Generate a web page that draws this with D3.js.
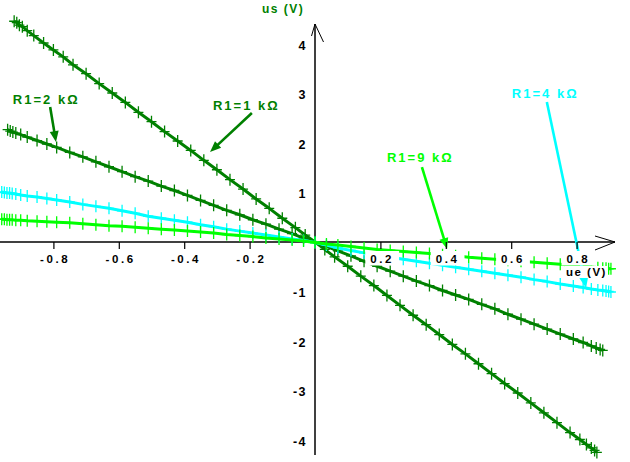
<!DOCTYPE html>
<html><head><meta charset="utf-8">
<script src="https://cdn.jsdelivr.net/npm/d3@7"></script>
<style>html,body{margin:0;padding:0;background:#fff;} svg{display:block;}</style>
</head><body>
<svg id="chart" width="630" height="462"></svg>
<script>
// ---------------- data ----------------
const seriesNames = ["R1=1 kΩ", "R1=2 kΩ", "R1=4 kΩ", "R1=9 kΩ"];

const ue_R1_1k = [-0.920,-0.912,-0.904,-0.895,-0.880,-0.860,-0.830,-0.800,-0.770,-0.740,-0.700,-0.660,-0.620,-0.580,-0.540,-0.500,-0.460,-0.420,-0.380,-0.340,-0.300,-0.260,-0.220,-0.180,-0.140,-0.100,-0.060,-0.030,0.000,0.030,0.060,0.100,0.140,0.180,0.220,0.260,0.300,0.340,0.380,0.420,0.460,0.500,0.540,0.580,0.620,0.660,0.700,0.740,0.780,0.810,0.830,0.845,0.855,0.862];
const us_R1_1k = [4.46,4.43,4.38,4.35,4.27,4.17,4.02,3.88,3.74,3.58,3.40,3.20,3.01,2.82,2.62,2.43,2.23,2.04,1.85,1.65,1.46,1.26,1.07,0.87,0.68,0.48,0.29,0.14,0.00,-0.15,-0.30,-0.49,-0.69,-0.88,-1.08,-1.28,-1.48,-1.67,-1.87,-2.07,-2.26,-2.46,-2.66,-2.86,-3.05,-3.25,-3.45,-3.65,-3.85,-3.99,-4.09,-4.16,-4.21,-4.25];

const ue_R1_2k = [-0.940,-0.932,-0.924,-0.915,-0.900,-0.880,-0.850,-0.820,-0.790,-0.750,-0.710,-0.670,-0.630,-0.590,-0.550,-0.510,-0.470,-0.430,-0.390,-0.350,-0.310,-0.270,-0.230,-0.190,-0.150,-0.110,-0.070,-0.035,0.000,0.035,0.070,0.110,0.150,0.190,0.230,0.270,0.310,0.350,0.390,0.430,0.470,0.510,0.550,0.590,0.630,0.670,0.710,0.750,0.790,0.820,0.845,0.860,0.872,0.880];
const us_R1_2k = [2.27,2.24,2.22,2.20,2.17,2.12,2.05,1.98,1.91,1.81,1.72,1.62,1.52,1.42,1.32,1.23,1.13,1.04,0.94,0.84,0.74,0.64,0.55,0.45,0.36,0.26,0.17,0.08,0.00,-0.09,-0.18,-0.28,-0.39,-0.49,-0.59,-0.69,-0.79,-0.88,-0.98,-1.07,-1.16,-1.26,-1.35,-1.46,-1.56,-1.66,-1.76,-1.86,-1.96,-2.03,-2.10,-2.14,-2.17,-2.19];

const ue_R1_4k = [-0.958,-0.950,-0.942,-0.934,-0.926,-0.915,-0.900,-0.880,-0.850,-0.820,-0.790,-0.750,-0.710,-0.670,-0.630,-0.590,-0.550,-0.510,-0.470,-0.430,-0.390,-0.350,-0.310,-0.270,-0.230,-0.190,-0.150,-0.110,-0.070,-0.035,0.000,0.035,0.070,0.110,0.150,0.190,0.230,0.270,0.310,0.350,0.390,0.430,0.470,0.510,0.550,0.590,0.630,0.670,0.710,0.750,0.790,0.820,0.845,0.865,0.880,0.890,0.898,0.905];
const us_R1_4k = [1.01,1.00,0.99,0.99,0.98,0.97,0.95,0.93,0.91,0.88,0.85,0.81,0.76,0.72,0.68,0.63,0.58,0.52,0.48,0.44,0.40,0.35,0.31,0.26,0.22,0.18,0.14,0.10,0.06,0.03,-0.01,-0.06,-0.12,-0.17,-0.22,-0.27,-0.31,-0.35,-0.39,-0.43,-0.47,-0.51,-0.55,-0.59,-0.63,-0.67,-0.71,-0.76,-0.80,-0.85,-0.89,-0.92,-0.95,-0.97,-0.98,-0.99,-1.00,-1.01];

const ue_R1_9k = [-0.958,-0.950,-0.942,-0.934,-0.926,-0.915,-0.900,-0.880,-0.850,-0.820,-0.790,-0.750,-0.710,-0.670,-0.630,-0.590,-0.550,-0.510,-0.470,-0.430,-0.390,-0.350,-0.310,-0.270,-0.230,-0.190,-0.150,-0.110,-0.070,-0.035,0.000,0.035,0.070,0.110,0.150,0.190,0.230,0.270,0.310,0.350,0.390,0.430,0.470,0.510,0.550,0.590,0.630,0.670,0.710,0.750,0.790,0.820,0.845,0.865,0.880,0.890,0.898,0.905];
const us_R1_9k = [0.46,0.46,0.45,0.45,0.45,0.44,0.44,0.43,0.42,0.41,0.40,0.39,0.37,0.35,0.33,0.32,0.30,0.28,0.26,0.24,0.22,0.20,0.18,0.15,0.13,0.11,0.08,0.06,0.04,0.02,-0.01,-0.04,-0.06,-0.09,-0.12,-0.15,-0.17,-0.19,-0.21,-0.23,-0.26,-0.28,-0.31,-0.33,-0.35,-0.37,-0.39,-0.41,-0.43,-0.45,-0.47,-0.49,-0.50,-0.52,-0.53,-0.53,-0.54,-0.54];

const xTickValues = [-0.8,-0.6,-0.4,-0.2,0.2,0.4,0.6,0.8];
const xTickLabels = ["-0.8","-0.6","-0.4","-0.2","0.2","0.4","0.6","0.8"];
const yTickValues = [4,3,2,1,-1,-2,-3,-4];
const yTickLabels = ["4","3","2","1","-1","-2","-3","-4"];
const xAxisTitle = "ue (V)";
const yAxisTitle = "us (V)";

// ---------------- layout / style ----------------
const FONT = "'Liberation Sans', Arial, Helvetica, sans-serif";
const colors = ["#008000", "#008000", "#00ffff", "#00ff00"];
const series = [
  {name: seriesNames[0], ue: ue_R1_1k, us: us_R1_1k, color: colors[0]},
  {name: seriesNames[1], ue: ue_R1_2k, us: us_R1_2k, color: colors[1]},
  {name: seriesNames[2], ue: ue_R1_4k, us: us_R1_4k, color: colors[2]},
  {name: seriesNames[3], ue: ue_R1_9k, us: us_R1_9k, color: colors[3]}
];
// annotation anchors in data units: text position, arrow start, arrow tip
const annotations = [
  {s: 0, text: [-0.312, 2.667], from: [-0.193, 2.606], to: [-0.321, 1.818]},
  {s: 1, text: [-0.924, 2.788], from: [-0.810, 2.727], to: [-0.792, 2.020]},
  {s: 2, text: [0.602, 2.909],  from: [0.709, 2.828],  to: [0.829, -0.929]},
  {s: 3, text: [0.220, 1.616],  from: [0.327, 1.515],  to: [0.404, -0.141]}
];

const X0 = 315, XU = 327, Y0 = 242, YU = 49.5;
const x = d3.scaleLinear().domain([-1, 1]).range([X0 - XU, X0 + XU]);
const y = d3.scaleLinear().domain([-1, 1]).range([Y0 + YU, Y0 - YU]);

const svg = d3.select("#chart");
svg.append("rect").attr("width", 630).attr("height", 462).attr("fill", "#fff");

// axis lines with open arrows
const ax = svg.append("g").attr("stroke", "#000").attr("stroke-width", 1.5).attr("fill", "none");
ax.append("line").attr("x1", 0).attr("x2", 615).attr("y1", Y0).attr("y2", Y0);
ax.append("polyline").attr("points", `595,236 615,${Y0} 595,250`).attr("stroke-width", 1);
ax.append("line").attr("x1", X0).attr("x2", X0).attr("y1", 24).attr("y2", 455);
ax.append("polyline").attr("points", `311.5,36 ${X0},24 323.5,42`).attr("stroke-width", 1);

// curves
const line = d3.line().x(d => x(d[0])).y(d => y(d[1]));
series.forEach(s => {
  const pts = s.ue.map((u, i) => [u, s.us[i]]);
  const g = svg.append("g");
  g.append("path").attr("d", line(pts)).attr("fill", "none")
    .attr("stroke", s.color).attr("stroke-width", 3).attr("stroke-linejoin", "round");
  g.selectAll("path.m").data(pts).join("path").attr("class", "m")
    .attr("transform", d => `translate(${x(d[0])},${y(d[1])})`)
    .attr("d", "M-5,0H5M0,-6V6")
    .attr("stroke", s.color).attr("stroke-width", 1.3).attr("fill", "none");
});

// annotations
annotations.forEach(a => {
  const c = series[a.s].color;
  const x1 = x(a.from[0]), y1 = y(a.from[1]), x2 = x(a.to[0]), y2 = y(a.to[1]);
  const len = Math.hypot(x2 - x1, y2 - y1), ux = (x2 - x1) / len, uy = (y2 - y1) / len;
  const hl = 11, hw = 4.5;
  const bx = x2 - ux * hl, by = y2 - uy * hl;
  svg.append("line").attr("x1", x1).attr("y1", y1).attr("x2", bx + ux * 2).attr("y2", by + uy * 2)
    .attr("stroke", c).attr("stroke-width", 2.6);
  svg.append("polygon")
    .attr("points", `${x2},${y2} ${bx - uy * hw},${by + ux * hw} ${bx + uy * hw},${by - ux * hw}`)
    .attr("fill", c);
  svg.append("text").attr("x", x(a.text[0])).attr("y", y(a.text[1]))
    .attr("fill", c).attr("font-family", FONT).attr("font-weight", "bold")
    .attr("font-size", 13).attr("letter-spacing", 2).text(series[a.s].name);
});

function boxed(textSel, padX, top, bottom) {
  textSel.each(function () {
    const b = this.getBBox();
    const t = top != null ? top : b.y, bt = bottom != null ? bottom : b.y + b.height;
    d3.select(this.parentNode).insert("rect", () => this)
      .attr("x", b.x - padX).attr("width", b.width + 2 * padX)
      .attr("y", t).attr("height", bt - t).attr("fill", "#fff");
  });
}

// x axis title (drawn under the tick label boxes)
const xt = svg.append("g");
xt.append("text").attr("x", 566).attr("y", 275.5).attr("font-family", FONT).attr("font-weight", "bold")
  .attr("font-size", 11.5).attr("letter-spacing", 1.5).attr("fill", "#000").text(xAxisTitle);
boxed(xt.selectAll("text"), 1, 266, 278);

// y axis title
svg.append("text").attr("x", 262).attr("y", 12.5).attr("font-family", FONT).attr("font-weight", "bold")
  .attr("font-size", 12).attr("letter-spacing", 1.5).attr("fill", "#008000").text(yAxisTitle);

// x axis ticks & labels
const gx = svg.append("g").attr("transform", `translate(0,${Y0})`)
  .call(d3.axisBottom(x).tickValues(xTickValues).tickSize(7).tickFormat((d, i) => xTickLabels[i]));
gx.select(".domain").remove();
gx.selectAll(".tick line").attr("stroke", "#000").attr("stroke-width", 1.2);
gx.selectAll(".tick text").attr("y", 20.5).attr("dy", 0).attr("fill", "#000")
  .attr("font-family", FONT).attr("font-weight", "bold").attr("font-size", 11.5).attr("letter-spacing", 2.6)
  .attr("dx", 1.3);
boxed(gx.selectAll(".tick text"), 5, 9, 23.5);

// y axis labels
const gy = svg.append("g").attr("transform", `translate(${X0},0)`)
  .call(d3.axisLeft(y).tickValues(yTickValues).tickSize(0).tickFormat((d, i) => yTickLabels[i]));
gy.select(".domain").remove();
gy.selectAll(".tick text").attr("x", -8).attr("dy", "0.4em").attr("fill", "#000")
  .attr("font-family", FONT).attr("font-weight", "bold").attr("font-size", 12.5).attr("letter-spacing", 1.5);
</script>
</body></html>
